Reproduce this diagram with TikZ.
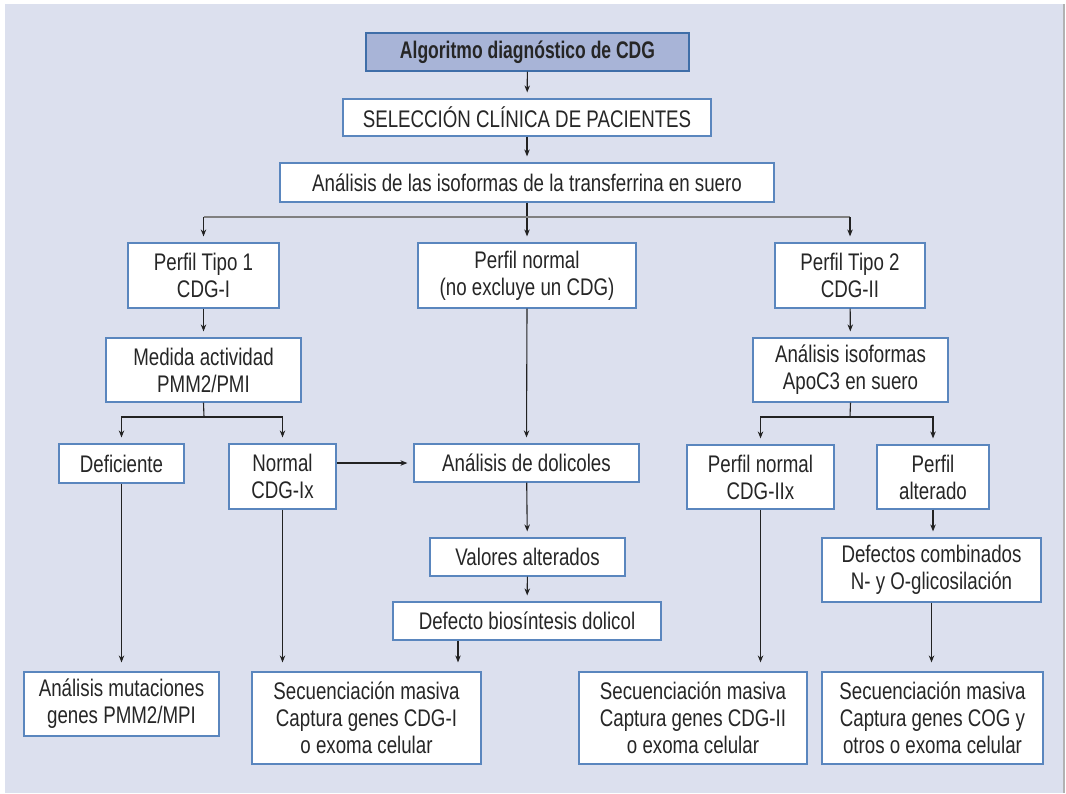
\documentclass[tikz,border=0pt]{standalone}
\usepackage{fontspec}
\setmainfont{Liberation Sans}[FakeStretch=0.78]
\newfontfamily\titlefont{Liberation Sans}[FakeStretch=0.73]
\usetikzlibrary{arrows.meta}
\definecolor{bgc}{HTML}{DCE0EE}
\definecolor{bord}{HTML}{5A86BE}
\definecolor{tfill}{HTML}{A8B4D7}
\definecolor{tbord}{HTML}{3F6EA8}
\definecolor{txt}{HTML}{262626}
\definecolor{lnc}{HTML}{222222}
\definecolor{gln}{HTML}{808080}
\newcommand\boxnode[6]{%
  \node[bx, minimum width={(#4-#2)*1pt}, minimum height={(#5-#3)*1pt}]
    (#1) at ({(#2+#4)/2},{(#3+#5)/2}) {#6};}
\begin{document}
\begin{tikzpicture}[x=1pt,y=-1pt,
  bx/.style={draw=bord, line width=1.2pt, fill=white, rectangle, inner sep=0pt,
    align=center, text=txt, font=\fontsize{24}{27}\selectfont},
  ttl/.style={bx, draw=tbord, fill=tfill, font=\titlefont\bfseries\fontsize{24}{27}\selectfont},
  arr/.style={draw=lnc, line width=1.1pt, -{Stealth[length=7pt,width=5.5pt]}, shorten >=6pt},
  arrl/.style={arr, shorten >=9pt},
  ln/.style={draw=lnc, line width=1.1pt},
  gln/.style={draw=gln, line width=1.6pt}]
\useasboundingbox (0,0) rectangle (1066,793);
\fill[white] (0,0) rectangle (1066,793);
\fill[bgc] (5,4) rectangle (1063,793);
\draw[color=gray!60, line width=2pt] (1064,4) -- (1064,793);

% title
\node[ttl, minimum width=323pt, minimum height=38pt] (title) at (527.5,52) {Algoritmo diagnóstico de CDG};
\boxnode{sel}{343}{99}{711}{136}{SELECCIÓN CLÍNICA DE PACIENTES}
\boxnode{trans}{280}{163}{774}{202}{Análisis de las isoformas de la transferrina en suero}
\boxnode{p1}{128}{243}{279}{308}{Perfil Tipo 1\\CDG-I}
\boxnode{pn}{418}{243}{636}{308}{Perfil normal\\(no excluye un CDG)}
\boxnode{p2}{775}{243}{925}{308}{Perfil Tipo 2\\CDG-II}
\boxnode{med}{106}{338}{301}{402}{Medida actividad\\PMM2/PMI}
\boxnode{apo}{753}{338}{948}{402}{Análisis isoformas\\ApoC3 en suero}
\boxnode{def}{59}{444}{184}{483}{Deficiente}
\boxnode{nor}{229}{444}{336}{509}{Normal\\CDG-Ix}
\boxnode{dol}{414}{444}{639}{482}{Análisis de dolicoles}
\boxnode{pnn}{687}{445}{834}{509}{Perfil normal\\CDG-IIx}
\boxnode{alt}{877}{445}{989}{509}{Perfil\\alterado}
\boxnode{val}{430}{538}{625}{576}{Valores alterados}
\boxnode{comb}{822}{538}{1041}{602}{Defectos combinados\\N- y O-glicosilación}
\boxnode{defb}{393}{602}{661}{640}{Defecto biosíntesis dolicol}
\boxnode{mut}{24}{672}{219}{736}{Análisis mutaciones\\genes PMM2/MPI}
\boxnode{s1}{252}{672}{481}{764}{Secuenciación masiva\\Captura genes CDG-I\\o exoma celular}
\boxnode{s2}{579}{672}{807}{764}{Secuenciación masiva\\Captura genes CDG-II\\o exoma celular}
\boxnode{s3}{822}{672}{1043}{764}{Secuenciación masiva\\Captura genes COG y\\otros o exoma celular}

% coordinates
\coordinate (b1) at (527,217);
\coordinate (b2) at (204,417);
\coordinate (b3) at (850,417);
\coordinate (dx) at (458,0);

% connectors
\draw[arr] (title) -- (sel);
\draw[arr] (sel) -- (trans);
\draw[arr] (trans.south) -- (pn.north);
\draw[gln] (p1.north |- b1) -- (p2.north |- b1);
\draw[arr] (p1.north |- b1) -- (p1.north);
\draw[arr] (p2.north |- b1) -- (p2.north);

\draw[arr] (p1) -- (med);
\draw[ln] (med.south) -- (b2);
\draw[arr] (b2) -| (def.north);
\draw[arr] (b2) -| (nor.north);
\draw[arr] (nor.east |- dol.west) -- (dol.west);
\draw[arr] (pn.south) -- (dol.north);
\draw[arr] (dol) -- (val);
\draw[arr] (val) -- (defb);
\draw[arrl] (defb.south -| dx) -- (dx |- s1.north);
\draw[arrl] (def.south) -- (def.south |- mut.north);
\draw[arrl] (nor.south) -- (nor.south |- s1.north);

\draw[arr] (p2) -- (apo);
\draw[ln] (apo.south) -- (b3);
\draw[arr] (b3) -| (pnn.north);
\draw[arr] (b3) -| (alt.north);
\draw[arr] (alt) -- (comb.north -| alt.south);
\draw[arrl] (pnn.south) -- (pnn.south |- s2.north);
\draw[arrl] (comb.south) -- (comb.south |- s3.north);
\end{tikzpicture}
\end{document}
